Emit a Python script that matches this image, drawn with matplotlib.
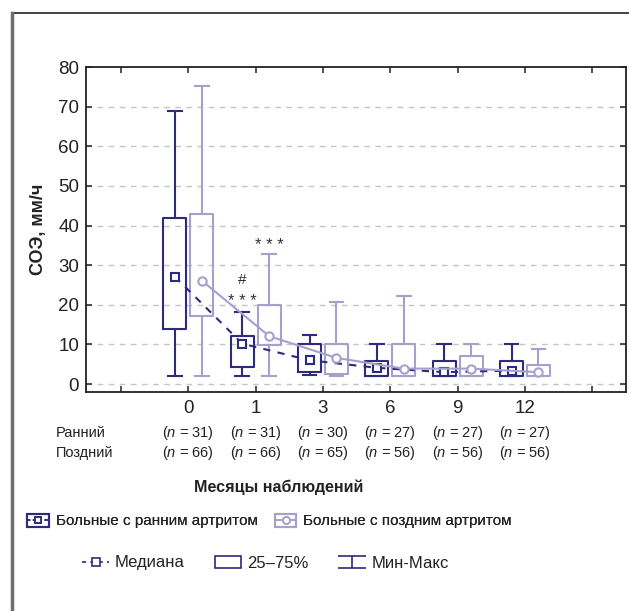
import matplotlib
matplotlib.use("Agg")
import matplotlib.pyplot as plt
import matplotlib.transforms as mtransforms
from matplotlib.lines import Line2D
from matplotlib.patches import Rectangle
from matplotlib.path import Path
from matplotlib.legend_handler import HandlerTuple

plt.rcParams['font.family'] = ['Liberation Sans', 'DejaVu Sans']
plt.rcParams['mathtext.fontset'] = 'custom'
plt.rcParams['mathtext.rm'] = 'Liberation Sans'
plt.rcParams['mathtext.it'] = 'Liberation Sans:italic'

# месяцы наблюдения
months = ['0', '1', '3', '6', '9', '12']

# СОЭ, мм/ч: ранний артрит
early_min = [2, 2, 2.2, 2, 2, 2]
early_q1 = [13.9, 4.3, 3.0, 2, 2, 2]
early_med = [27.1, 10.2, 6.0, 4.1, 3.0, 3.4]
early_q3 = [41.8, 12.1, 10.2, 5.9, 5.9, 5.9]
early_max = [69, 18.2, 12.3, 10.1, 10.1, 10.1]
early_n = [31, 31, 30, 27, 27, 27]

# СОЭ, мм/ч: поздний артрит
late_min = [2, 2, 2.1, 2, 2, 2]
late_q1 = [17.1, 9.8, 2.5, 2, 2, 2]
late_med = [26.1, 12.1, 6.6, 3.9, 3.9, 3.0]
late_q3 = [43, 19.9, 10.1, 10.1, 7.1, 4.9]
late_max = [75.2, 32.9, 20.8, 22.1, 10.1, 8.8]
late_n = [66, 66, 65, 56, 56, 56]

navy = '#2e2b7e'
lilac = '#a4a1cd'
lw = 1.5


def make_stats(lo, q1, med, q3, hi):
    return [dict(whislo=a, q1=b, med=c, q3=d, whishi=e)
            for a, b, c, d, e in zip(lo, q1, med, q3, hi)]


fig = plt.figure(figsize=(6.29, 6.11), dpi=100)
ax = fig.add_axes([86 / 629, 1 - 392 / 611, 540 / 629, 325 / 611])

pos = list(range(1, len(months) + 1))
off = 0.2
pos_early = [p - off for p in pos]
pos_late = [p + off for p in pos]

for stats, p, c in [(make_stats(early_min, early_q1, early_med, early_q3, early_max), pos_early, navy),
                    (make_stats(late_min, late_q1, late_med, late_q3, late_max), pos_late, lilac)]:
    ax.bxp(stats, positions=p, widths=0.34, capwidths=0.2, showfliers=False,
           boxprops=dict(color=c, linewidth=lw),
           whiskerprops=dict(color=c, linewidth=lw),
           capprops=dict(color=c, linewidth=lw),
           medianprops=dict(linewidth=0),
           manage_ticks=False, zorder=3)

ax.plot(pos_early, early_med, color=navy, lw=lw, ls=(0, (3.5, 3.5)),
        marker='s', ms=6, mfc='white', mec=navy, mew=1.5, zorder=4)
ax.plot(pos_late, late_med, color=lilac, lw=lw, ls='-',
        marker='o', ms=6, mfc='white', mec=lilac, mew=1.5, zorder=4)

# значимость различий
ax.text(pos_late[1], 35.0, '* * *', ha='center', va='center', fontsize=12, color='#333333')
ax.text(pos_early[1], 26.3, '#', ha='center', va='center', fontsize=11, color='#333333')
ax.text(pos_early[1], 20.8, '* * *', ha='center', va='center', fontsize=12, color='#333333')

ax.set_xlim(-0.52, 7.5)
ax.set_ylim(-2, 80)
ax.set_xticks(range(0, 8))
ax.set_xticklabels([''] + months + [''])
ax.set_yticks(range(0, 81, 10))
ax.tick_params(direction='in', length=4, width=1.2, top=True, right=True,
               labelsize=13.5, color='#333333', labelcolor='#222222')
ax.tick_params(axis='x', pad=6)
ax.tick_params(axis='y', pad=5)
for s in ax.spines.values():
    s.set_linewidth(1.3)
    s.set_color('#222222')
for y in range(0, 80, 10):
    ax.axhline(y, color='#c4c4c4', lw=1, ls=(0, (4, 4)), zorder=1)

ax.set_ylabel('СОЭ, мм/ч', fontsize=13, fontweight='bold', labelpad=8, color='#222222')

# численность групп под осью
trans = mtransforms.blended_transform_factory(ax.transData, fig.transFigure)
fig.text(56 / 629, 1 - 433 / 611, 'Ранний', fontsize=10.5, va='center', color='#222222')
fig.text(56 / 629, 1 - 453 / 611, 'Поздний', fontsize=10.5, va='center', color='#222222')
for p, ne, nl in zip(pos, early_n, late_n):
    ax.text(p, 1 - 433 / 611, r'($\mathit{n}$ = %d)' % ne, transform=trans,
            ha='center', va='center', fontsize=10.5, color='#222222')
    ax.text(p, 1 - 453 / 611, r'($\mathit{n}$ = %d)' % nl, transform=trans,
            ha='center', va='center', fontsize=10.5, color='#222222')

fig.text(279 / 629, 1 - 487 / 611, 'Месяцы наблюдений', ha='center', va='center',
         fontsize=11.6, fontweight='bold', color='#222222')

# легенда: группы
h_early = (Rectangle((0, 0), 1, 1, fill=False, edgecolor=navy, lw=lw),
           Line2D([], [], color=navy, lw=1.2, ls=(0, (2, 1.5)), marker='s', ms=5,
                  mfc='white', mec=navy, mew=1.3))
h_late = (Rectangle((0, 0), 1, 1, fill=False, edgecolor=lilac, lw=lw),
          Line2D([], [], color=lilac, lw=1.2, marker='o', ms=5,
                 mfc='white', mec=lilac, mew=1.3))
leg1 = fig.legend([h_early, h_late], ['Больные с ранним артритом', 'Больные с поздним артритом'],
                  handler_map={tuple: HandlerTuple(ndivide=1)},
                  loc='center', bbox_to_anchor=(269.5 / 629, 1 - 521 / 611), ncol=2,
                  frameon=False, fontsize=11, handlelength=1.4, handleheight=0.95,
                  handletextpad=0.45, columnspacing=1.15, labelcolor='#222222')

# легенда: обозначения
cap = Path([(-1, 0.4), (1, 0.4), (0, 0.4), (0, -0.4), (-1, -0.4), (1, -0.4)],
           [Path.MOVETO, Path.LINETO, Path.MOVETO, Path.LINETO, Path.MOVETO, Path.LINETO])
h_med = Line2D([], [], color=navy, lw=1.2, ls=(0, (2.5, 2.5)), marker='s', ms=6,
               mfc='white', mec=navy, mew=1.2)
h_box = Rectangle((0, 0), 1, 1, fill=False, edgecolor=navy, lw=1.2)
h_rng = Line2D([], [], color=navy, ls='none', marker=cap, ms=20, mew=1.2, mec=navy)
fig.legend([h_med, h_box, h_rng], ['Медиана', '25–75%', 'Мин-Макс'],
           loc='center', bbox_to_anchor=(265.5 / 629, 1 - 563 / 611), ncol=3,
           frameon=False, fontsize=12, handlelength=1.6, handleheight=0.7,
           handletextpad=0.35, columnspacing=1.8, labelcolor='#222222')
fig.add_artist(leg1)

# рамка
fig.add_artist(Line2D([12 / 629, 1], [1 - 13 / 611, 1 - 13 / 611], color='#333333', lw=1.3))
fig.add_artist(Line2D([12 / 629, 12 / 629], [0, 1 - 13 / 611], color='#6e6e6e', lw=2.5))

fig.savefig('out.png', dpi=100)
